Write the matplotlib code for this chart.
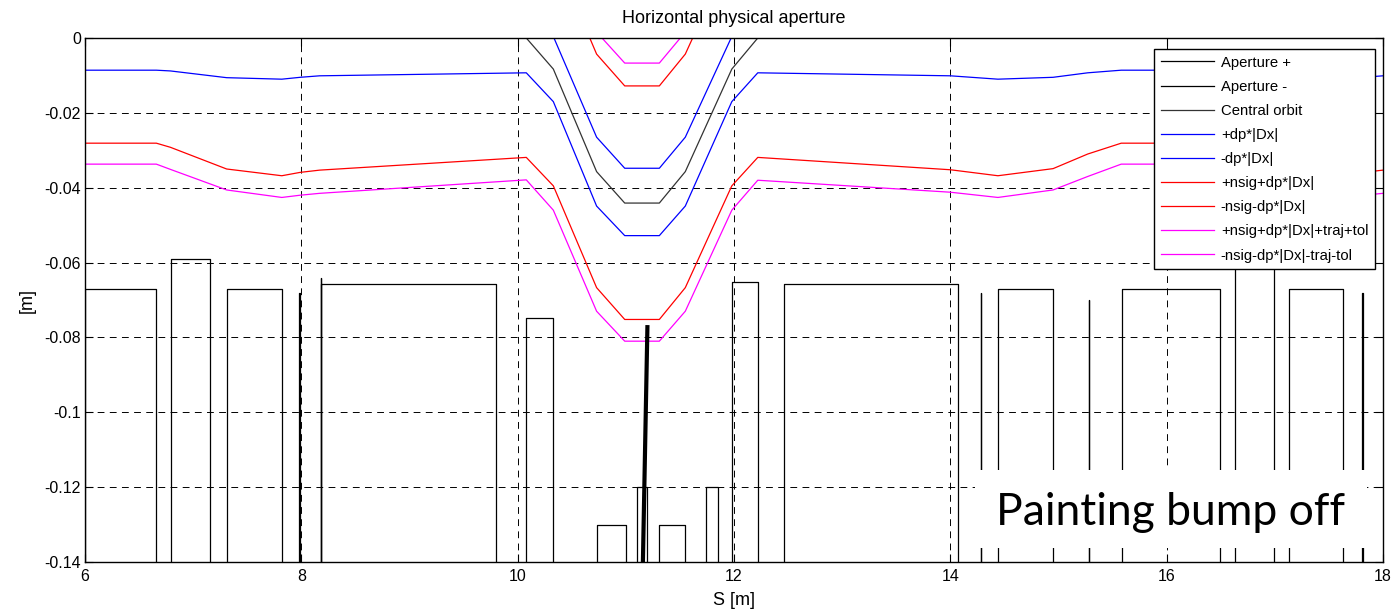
import matplotlib.pyplot as plt
from matplotlib.patches import Rectangle
import numpy as np

plt.rcParams['font.family'] = ['Liberation Sans', 'DejaVu Sans']
plt.rcParams['axes.unicode_minus'] = False

# longitudinal positions of the optics points [m]
s = [6.0, 6.66, 6.79, 7.31, 7.82, 7.99, 8.17, 10.08, 10.33, 10.73, 10.99,
     11.31, 11.55, 11.98, 12.22, 14.0, 14.44, 14.95, 15.27, 15.58, 16.49,
     16.62, 17.14, 17.65, 17.82, 18.0]

# central orbit (painting bump off, only the chicane bump)
orbit = [0.0, 0.0, 0.0, 0.0, 0.0, 0.0, 0.0, 0.0, -0.0083, -0.0357, -0.0441,
         -0.0441, -0.0357, -0.0083, 0.0, 0.0, 0.0, 0.0, 0.0, 0.0, 0.0,
         0.0, 0.0, 0.0, 0.0, 0.0]

# orbit +/- dp*|Dx|
dp_plus = [-0.0086, -0.0086, -0.0088, -0.0106, -0.0110, -0.0105, -0.0101,
           -0.0093, -0.0170, -0.0449, -0.0528, -0.0528, -0.0449, -0.0170,
           -0.0093, -0.0101, -0.0110, -0.0105, -0.0093, -0.0086, -0.0086,
           -0.0088, -0.0106, -0.0110, -0.0105, -0.0101]
dp_minus = [0.0086, 0.0086, 0.0088, 0.0106, 0.0110, 0.0105, 0.0101,
            0.0093, 0.0004, -0.0265, -0.0348, -0.0348, -0.0265, 0.0004,
            0.0093, 0.0101, 0.0110, 0.0105, 0.0093, 0.0086, 0.0086,
            0.0088, 0.0106, 0.0110, 0.0105, 0.0101]

# orbit +/- (nsig + dp*|Dx|)
nsig_plus = [-0.0281, -0.0281, -0.0292, -0.0350, -0.0368, -0.0359, -0.0353,
             -0.0319, -0.0395, -0.0667, -0.0752, -0.0752, -0.0667, -0.0395,
             -0.0319, -0.0352, -0.0368, -0.0349, -0.0310, -0.0281, -0.0281,
             -0.0292, -0.0350, -0.0368, -0.0359, -0.0353]
nsig_minus = [0.0281, 0.0281, 0.0292, 0.0350, 0.0368, 0.0359, 0.0353,
              0.0319, 0.0229, -0.0043, -0.0128, -0.0128, -0.0043, 0.0229,
              0.0319, 0.0352, 0.0368, 0.0349, 0.0310, 0.0281, 0.0281,
              0.0292, 0.0350, 0.0368, 0.0359, 0.0353]

# ... + traj + tol
tol_plus = [-0.0337, -0.0337, -0.0351, -0.0406, -0.0426, -0.0420, -0.0415,
            -0.0379, -0.0460, -0.0730, -0.0810, -0.0810, -0.0730, -0.0460,
            -0.0380, -0.0412, -0.0426, -0.0406, -0.0370, -0.0337, -0.0337,
            -0.0351, -0.0406, -0.0426, -0.0420, -0.0415]
tol_minus = [0.0337, 0.0337, 0.0351, 0.0406, 0.0426, 0.0420, 0.0415,
             0.0379, 0.0294, 0.0016, -0.0067, -0.0067, 0.0016, 0.0294,
             0.0380, 0.0412, 0.0426, 0.0406, 0.0370, 0.0337, 0.0337,
             0.0351, 0.0406, 0.0426, 0.0420, 0.0415]

# aperture elements: start, end, inner edge [m]
elem_start = [6.0, 6.80, 7.31, 7.975, 8.18, 8.185, 10.08, 10.73, 11.10,
              11.31, 11.74, 11.98, 12.46, 14.28, 14.44, 15.28, 15.59, 16.63,
              17.13, 17.81]
elem_end = [6.66, 7.16, 7.82, 7.99, 8.185, 9.80, 10.33, 11.00, 11.20,
            11.55, 11.85, 12.22, 14.07, 14.285, 14.95, 15.285, 16.49, 16.99,
            17.63, 17.815]
elem_edge = [-0.067, -0.059, -0.067, -0.068, -0.064, -0.0658, -0.0749,
             -0.130, -0.120, -0.130, -0.120, -0.0651, -0.0658, -0.068,
             -0.067, -0.070, -0.067, -0.059, -0.067, -0.068]
open_edge = -0.15  # no element: beyond plot range

# stripping foil / septum blade drawn in bold
foil_s = [11.20, 11.158]
foil_y = [-0.0767, -0.14]

yticks = [-0.14, -0.12, -0.1, -0.08, -0.06, -0.04, -0.02, 0]
ytick_labels = ['-0.14', '-0.12', '-0.1', '-0.08', '-0.06', '-0.04', '-0.02', '0']
xticks = [6, 8, 10, 12, 14, 16, 18]

# build the step profile of the aperture
ap_s, ap_y = [], []
for a, b, e in zip(elem_start, elem_end, elem_edge):
    ap_s += [a, a, b, b]
    ap_y += [open_edge, e, e, open_edge]
ap_s = np.array(ap_s)
ap_y = np.array(ap_y)

fig = plt.figure(figsize=(13.95, 6.11), dpi=100)
ax = fig.add_axes([0.0609, 0.0802, 0.9305, 0.8576])

lw = 0.9
ax.plot(ap_s, -ap_y, color='k', lw=lw, label='Aperture +')
ax.plot(ap_s, ap_y, color='k', lw=lw, label='Aperture -')
ax.plot(s, orbit, color='#333333', lw=lw, label='Central orbit')
ax.plot(s, dp_plus, color='#0000ff', lw=lw, label='+dp*|Dx|')
ax.plot(s, dp_minus, color='#0000ff', lw=lw, label='-dp*|Dx|')
ax.plot(s, nsig_plus, color='#ff0000', lw=lw, label='+nsig+dp*|Dx|')
ax.plot(s, nsig_minus, color='#ff0000', lw=lw, label='-nsig-dp*|Dx|')
ax.plot(s, tol_plus, color='#ff00ff', lw=lw, label='+nsig+dp*|Dx|+traj+tol')
ax.plot(s, tol_minus, color='#ff00ff', lw=lw, label='-nsig-dp*|Dx|-traj-tol')
ax.plot(foil_s, foil_y, color='k', lw=3, solid_capstyle='butt')

ax.set_xlim(6, 18)
ax.set_ylim(-0.14, 0)
ax.set_xticks(xticks)
ax.set_yticks(yticks)
ax.set_yticklabels(ytick_labels)
ax.tick_params(direction='in', top=True, right=True, length=6, width=0.8,
               labelsize=11.5)
ax.tick_params(axis='y', pad=3)
ax.tick_params(axis='x', pad=5)
ax.grid(True, color='k', lw=0.7, linestyle=(0, (7, 5.5)))
for sp in ax.spines.values():
    sp.set_linewidth(1.0)

ax.set_title('Horizontal physical aperture', fontsize=13, pad=11)
ax.set_xlabel('S [m]', fontsize=13, labelpad=6)
ax.set_ylabel('[m]', fontsize=13, labelpad=6)

leg = ax.legend(loc='upper right', bbox_to_anchor=(0.9938, 0.979),
                borderaxespad=0, fontsize=10.7, handlelength=3.6,
                handletextpad=0.45, labelspacing=0.68, borderpad=0.45,
                fancybox=False, framealpha=1, edgecolor='k')
leg.get_frame().set_linewidth(1.0)

# annotation box
ax.add_patch(Rectangle((0.686, 0.027), 0.302, 0.149, transform=ax.transAxes,
                       facecolor='white', edgecolor='none', zorder=5))
ax.text(0.836, 0.0706, 'Painting bump off', transform=ax.transAxes,
        ha='center', va='baseline', fontsize=32, family=['Lato'], zorder=6)

fig.savefig('out.png', dpi=100)
